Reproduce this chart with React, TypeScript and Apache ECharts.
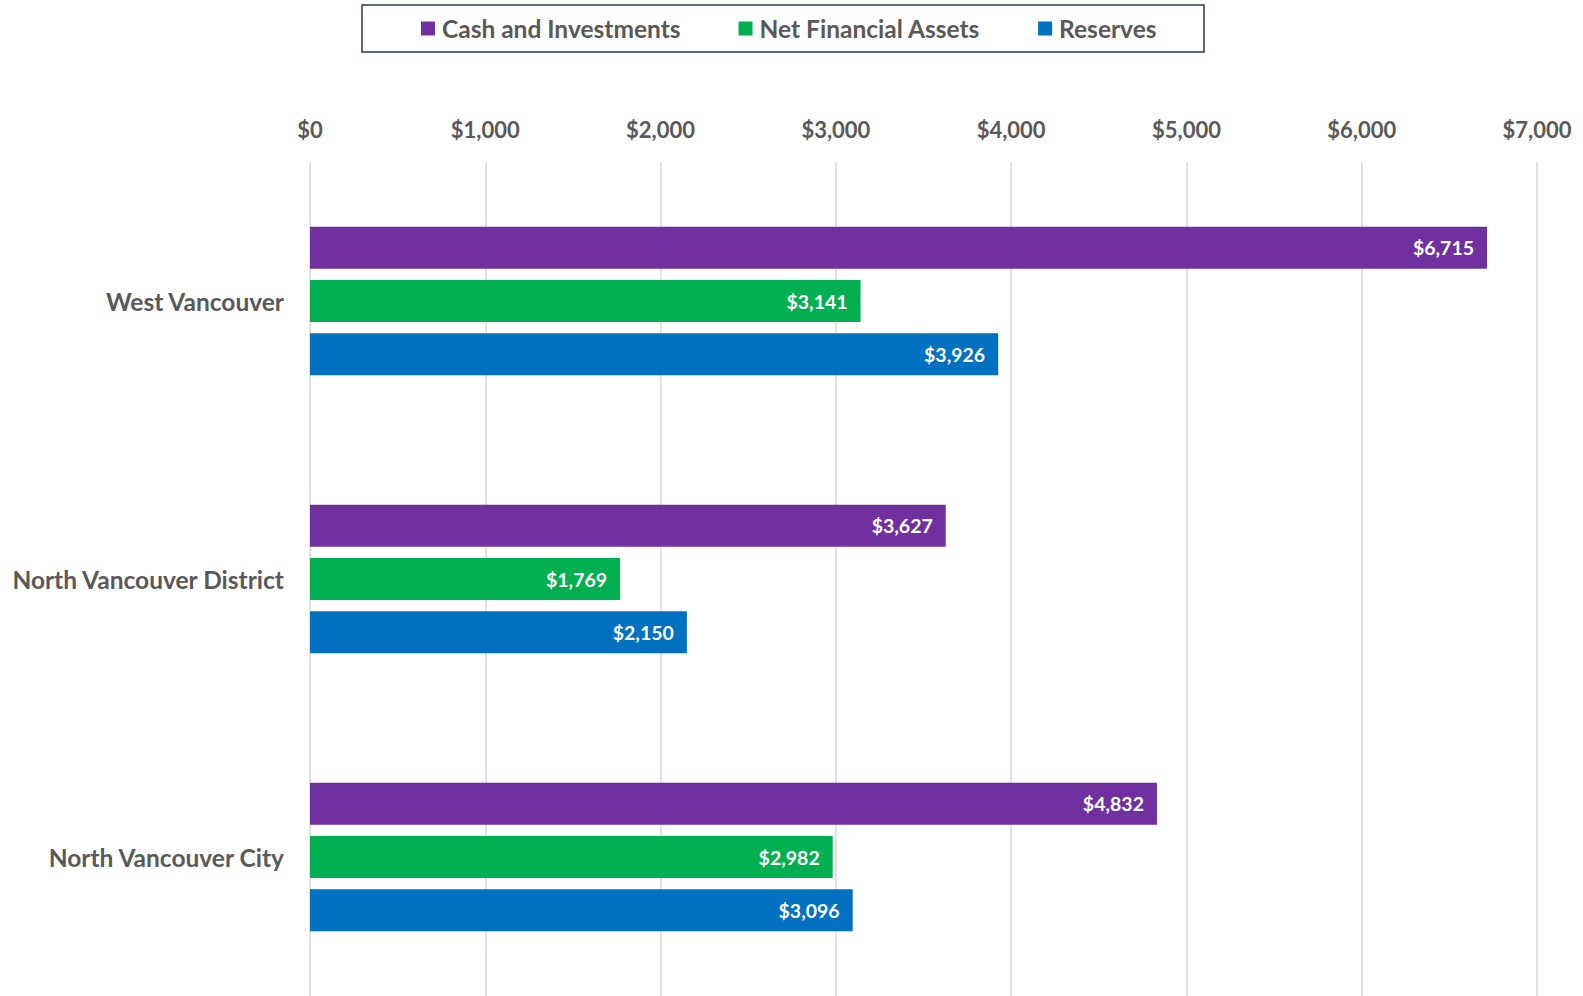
import React, { useEffect, useRef } from "react";
import * as echarts from "echarts";

const categories = ["West Vancouver", "North Vancouver District", "North Vancouver City"];
const seriesNames = ["Cash and Investments", "Net Financial Assets", "Reserves"];
const cashValues = [6715, 3627, 4832];
const netFinancialValues = [3141, 1769, 2982];
const reserveValues = [3926, 2150, 3096];
const colors = ["#7030A0", "#00B050", "#0070C0"];

const FONT = "Lato, 'Open Sans', sans-serif";

function fmt(v: number) {
  return "$" + v.toLocaleString("en-US");
}

export default function App() {
  const ref = useRef<HTMLDivElement>(null);
  useEffect(() => {
    if (!ref.current) return;
    const chart = echarts.init(ref.current, undefined, { renderer: "svg" });
    const values = [cashValues, netFinancialValues, reserveValues];
    chart.setOption({
      animation: false,
      textStyle: { fontFamily: FONT },
      graphic: [
        {
          type: "rect",
          shape: { x: 362, y: 5, width: 842, height: 47 },
          style: { fill: "#fff", stroke: "#243A5E", lineWidth: 1.5 },
          z: 0,
        },
      ],
      legend: {
        left: 416,
        top: 11,
        itemWidth: 14,
        itemHeight: 14,
        itemGap: 58,
        icon: "rect",
        textStyle: {
          fontFamily: FONT,
          fontSize: 24.5,
          fontWeight: "bold",
          color: "#595959",
          padding: [0, 0, 0, 2],
        },
        data: seriesNames,
        z: 5,
      },
      grid: { left: 310, right: 46, top: 162, height: 842, containLabel: false },
      xAxis: {
        type: "value",
        position: "top",
        min: 0,
        max: 7000,
        interval: 1000,
        axisLine: { show: false },
        axisTick: { show: false },
        axisLabel: {
          formatter: (v: number) => fmt(v),
          fontFamily: FONT,
          fontSize: 22,
          fontWeight: "bold",
          color: "#595959",
          margin: 22,
        },
        splitLine: { show: true, lineStyle: { color: "#D9D9D9", width: 1.5 } },
      },
      yAxis: {
        type: "category",
        inverse: true,
        data: categories,
        axisLine: { show: false },
        axisTick: { show: false },
        axisLabel: {
          fontFamily: FONT,
          fontSize: 24.5,
          fontWeight: "bold",
          color: "#595959",
          margin: 26,
        },
      },
      series: seriesNames.map((name, i) => ({
        name,
        type: "bar",
        data: values[i],
        barWidth: 42,
        barGap: "27%",
        itemStyle: { color: colors[i] },
        label: {
          show: true,
          position: "insideRight",
          distance: 13,
          formatter: (p: any) => fmt(p.value),
          color: "#fff",
          fontFamily: FONT,
          fontSize: 19.5,
          fontWeight: "bold",
        },
      })),
    });
    return () => chart.dispose();
  }, []);
  return (
    <div
      ref={ref}
      style={{ position: "fixed", left: 0, top: 0, width: 1583, height: 996, overflow: "hidden", background: "#fff" }}
    />
  );
}
